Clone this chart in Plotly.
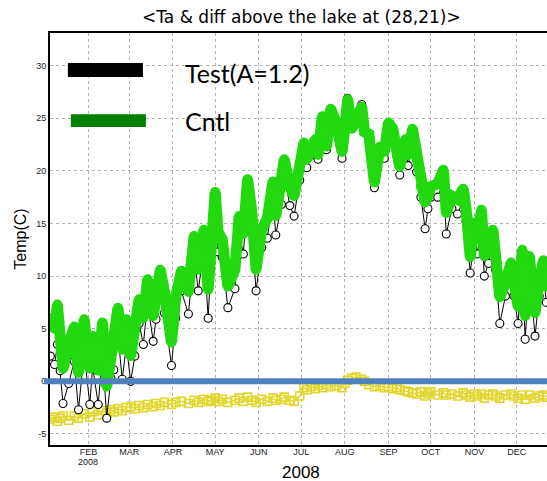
import pandas as pd
import plotly.graph_objects as go

# ---- data (day of year 2008 counted from Jan 1) ----
days = [4, 7, 9, 11, 13, 17, 21, 24, 28, 32, 34, 38, 41, 44, 47, 49, 52, 55, 58, 61,
        64, 67, 70, 73, 77, 79, 82, 85, 90, 93, 97, 102, 106, 109, 113, 116, 118, 121, 123, 126,
        130, 135, 138, 141, 144, 147, 150, 154, 158, 162, 164, 168, 170, 174, 177, 181, 184, 186, 189, 192,
        194, 197, 200, 203, 207, 211, 213, 215, 218, 221, 225, 227, 230, 234, 238, 241, 244, 247, 250, 252,
        256, 258, 261, 264, 267, 270, 272, 274, 279, 283, 285, 289, 293, 297, 299, 302, 305, 307, 310, 312,
        315, 318, 320, 323, 327, 331, 333, 336, 339, 341, 344, 348, 351, 354, 356]

cntl = [6.0, 5.0, 7.3, 4.5, 1.2, 3.5, 5.2, 0.8, 5.9, 1.2, 4.3, 1.0, 5.6, -0.5, 3.0, 4.0, 7.0, 3.0, 5.9, 2.4,
        5.0, 7.8, 6.0, 9.7, 6.2, 8.0, 10.6, 8.5, 3.7, 8.0, 10.5, 8.5, 13.8, 10.6, 14.4, 8.7, 13.0, 18.0, 14.2, 13.5,
        9.0, 10.6, 15.7, 14.0, 19.2, 16.1, 10.6, 14.4, 15.5, 19.0, 15.7, 18.5, 21.1, 18.5, 17.6, 20.5, 22.7, 21.1, 22.0, 23.0,
        21.5, 25.2, 22.3, 25.9, 24.5, 21.8, 24.0, 26.8, 24.0, 25.0, 26.1, 23.7, 23.5, 18.9, 22.3, 21.8, 24.6, 24.0, 22.0, 20.4,
        23.0, 21.5, 24.0, 21.1, 18.5, 17.0, 17.6, 18.5, 18.8, 20.1, 16.0, 17.6, 17.3, 18.3, 16.5, 11.8, 15.1, 13.5, 16.3, 11.9,
        12.5, 14.4, 12.0, 8.0, 9.4, 11.3, 9.5, 7.1, 12.5, 6.2, 11.9, 6.5, 9.5, 11.5, 9.0]

test = [2.4, 1.6, 3.5, 1.0, -2.1, -0.2, 1.9, -2.7, 2.8, -2.2, 1.4, -2.2, 2.8, -3.5, 0.3, 1.1, 4.4, 0.2, 3.4, 0.0,
        2.4, 5.5, 3.5, 7.5, 3.8, 5.9, 8.3, 6.5, 1.5, 6.0, 8.6, 6.4, 12.0, 8.6, 12.7, 6.0, 11.2, 16.4, 12.3, 11.8,
        7.0, 8.8, 14.1, 12.1, 17.7, 14.3, 8.6, 12.7, 13.6, 17.4, 13.9, 16.8, 19.6, 16.7, 15.7, 19.1, 22.1, 20.3, 21.5, 22.3,
        21.1, 24.6, 22.0, 25.4, 24.1, 21.2, 23.8, 26.9, 24.3, 25.4, 26.3, 23.7, 23.2, 18.4, 21.9, 21.2, 24.1, 23.3, 21.4, 19.6,
        22.1, 20.5, 22.9, 19.9, 17.5, 14.5, 16.4, 17.5, 17.5, 19.0, 14.0, 16.4, 15.9, 17.2, 15.2, 10.3, 13.9, 12.1, 15.1, 10.0,
        11.2, 13.2, 10.6, 5.5, 8.1, 10.1, 8.1, 5.5, 11.2, 4.0, 10.6, 4.3, 8.1, 10.2, 7.5]

diff = [-3.6, -3.4, -3.8, -3.5, -3.3, -3.7, -3.3, -3.5, -3.1, -3.4, -2.9, -3.2, -2.8, -3.0, -2.7, -2.9, -2.6, -2.8, -2.5, -2.4,
        -2.6, -2.3, -2.5, -2.2, -2.4, -2.1, -2.3, -2.0, -2.2, -2.0, -1.9, -2.1, -1.8, -2.0, -1.7, -1.9, -1.8, -1.6, -1.9, -1.7,
        -2.0, -1.8, -1.6, -1.9, -1.5, -1.8, -2.0, -1.7, -1.9, -1.6, -1.8, -1.7, -1.5, -1.8, -1.9, -1.4, -0.6, -0.8, -0.5, -0.7,
        -0.4, -0.6, -0.3, -0.5, -0.4, -0.6, -0.2, 0.1, 0.3, 0.4, 0.2, 0.0, -0.3, -0.5, -0.4, -0.6, -0.5, -0.7, -0.6, -0.8,
        -0.9, -1.0, -1.1, -1.2, -1.0, -1.4, -1.2, -1.0, -1.3, -1.1, -1.3, -1.2, -1.4, -1.1, -1.3, -1.5, -1.2, -1.4, -1.2, -1.6,
        -1.3, -1.2, -1.4, -1.6, -1.3, -1.2, -1.4, -1.6, -1.3, -1.7, -1.3, -1.6, -1.4, -1.3, -1.5]

month_ticks = ["2008-02-01", "2008-03-01", "2008-04-01", "2008-05-01", "2008-06-01", "2008-07-01",
               "2008-08-01", "2008-09-01", "2008-10-01", "2008-11-01", "2008-12-01"]
month_labels = ["FEB", "MAR", "APR", "MAY", "JUN", "JUL", "AUG", "SEP", "OCT", "NOV", "DEC"]
year_label = "2008"
y_ticks = [-5, 0, 5, 10, 15, 20, 25, 30]

base = pd.Timestamp("2008-01-01")
dates = [base + pd.Timedelta(days=d) for d in days]

YELLOW = "#e2d62c"
GREEN = "#22d80e"

fig = go.Figure()
# diff (yellow open squares)
fig.add_trace(go.Scatter(x=dates, y=diff, mode="lines+markers",
                         line=dict(color=YELLOW, width=1.5),
                         marker=dict(symbol="square-open", size=8, color=YELLOW,
                                     line=dict(width=1.6, color=YELLOW)),
                         showlegend=False))
# Test (black open circles)
fig.add_trace(go.Scatter(x=dates, y=test, mode="lines+markers",
                         line=dict(color="black", width=1),
                         marker=dict(symbol="circle", size=8, color="white",
                                     line=dict(width=1.1, color="black")),
                         showlegend=False))
# Cntl (green filled circles)
fig.add_trace(go.Scatter(x=dates, y=cntl, mode="lines+markers",
                         line=dict(color=GREEN, width=11),
                         marker=dict(symbol="circle", size=10, color=GREEN),
                         showlegend=False))

grid = "#b4b4b4"
tick_font = dict(family="Liberation Sans Narrow, Arial Narrow, sans-serif", size=9, color="#222")

fig.update_layout(
    width=547, height=481,
    margin=dict(l=50, r=0, t=33, b=36),
    paper_bgcolor="white", plot_bgcolor="white",
    title=dict(text="&lt;Ta &amp; diff above the lake at (28,21)&gt;",
               x=0.551, xanchor="center", y=0.965, yanchor="middle",
               font=dict(family="DejaVu Sans", size=17, color="black")),
    xaxis=dict(type="date", automargin=False,
               range=[base + pd.Timedelta(days=3.76), base + pd.Timedelta(days=356.5)],
               tickvals=month_ticks, ticktext=month_labels, tickfont=tick_font,
               showgrid=True, gridcolor=grid, griddash="dot", gridwidth=1,
               showline=True, linecolor="black", linewidth=2, mirror=True,
               ticks="", ticklabelstandoff=-3,
               zeroline=False),
    yaxis=dict(range=[-6.05, 33.1], automargin=False,
               tickvals=y_ticks, ticktext=[str(v) for v in y_ticks],
               tickfont=tick_font,
               showgrid=True, gridcolor=grid, griddash="dot", gridwidth=1,
               showline=True, linecolor="black", linewidth=2, ticks="",
               title=dict(text="Temp(C)", font=dict(family="Liberation Sans, Arial, sans-serif", size=16, color="black"),
                          standoff=6),
               zeroline=False),
    showlegend=False,
)

# year under the first month label and the x-axis title
fig.add_annotation(xref="x", yref="paper", x=month_ticks[0], y=-0.0415, yanchor="middle",
                   text=year_label, showarrow=False, font=tick_font)
fig.add_annotation(xref="paper", yref="paper", x=0.505, y=-0.066, yanchor="middle",
                   text=year_label, showarrow=False,
                   font=dict(family="Liberation Sans, Arial, sans-serif", size=17, color="black"))

# zero reference line and pasted legend
fig.add_shape(type="line", xref="paper", yref="y", x0=-0.012, x1=1, y0=0, y1=0,
              line=dict(color="#4f81bd", width=6), layer="above")
fig.add_shape(type="rect", xref="paper", yref="paper", x0=0.036, x1=0.187, y0=0.893, y1=0.927,
              fillcolor="black", line=dict(width=0), layer="above")
fig.add_shape(type="rect", xref="paper", yref="paper", x0=0.042, x1=0.193, y0=0.772, y1=0.803,
              fillcolor="#008000", line=dict(width=0), layer="above")
fig.add_annotation(xref="paper", yref="paper", x=0.268, y=0.903, xanchor="left", yanchor="middle",
                   text="Test(A=1.2)", showarrow=False,
                   font=dict(family="Lato, Carlito, sans-serif", size=25, color="black"))
fig.add_annotation(xref="paper", yref="paper", x=0.268, y=0.786, xanchor="left", yanchor="middle",
                   text="Cntl", showarrow=False,
                   font=dict(family="Lato, Carlito, sans-serif", size=25, color="black"))

fig.write_html("out.html")
